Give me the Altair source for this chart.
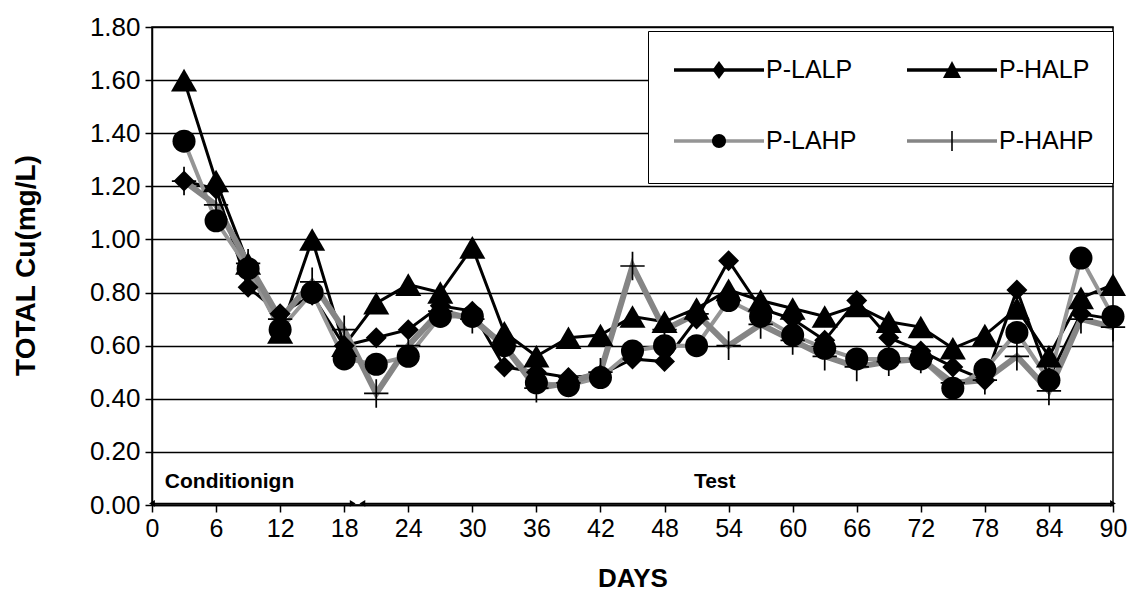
import altair as alt
import pandas as pd

# ---------------- data ----------------
days = list(range(3, 91, 3))
series_names = ["P-LALP", "P-HALP", "P-LAHP", "P-HAHP"]
p_lalp = [1.22, 1.19, 0.82, 0.72, 0.79, 0.60, 0.63, 0.66, 0.75, 0.73,
          0.52, 0.50, 0.48, 0.49, 0.55, 0.54, 0.70, 0.92, 0.74, 0.70,
          0.62, 0.77, 0.63, 0.58, 0.52, 0.47, 0.81, 0.48, 0.72, 0.70]
p_halp = [1.60, 1.22, 0.91, 0.65, 1.00, 0.60, 0.76, 0.83, 0.80, 0.97,
          0.65, 0.56, 0.63, 0.64, 0.71, 0.69, 0.74, 0.81, 0.77, 0.74,
          0.71, 0.75, 0.69, 0.67, 0.59, 0.64, 0.74, 0.56, 0.78, 0.83]
p_lahp = [1.37, 1.07, 0.89, 0.66, 0.80, 0.55, 0.53, 0.56, 0.71, 0.71,
          0.60, 0.46, 0.45, 0.48, 0.58, 0.60, 0.60, 0.77, 0.71, 0.64,
          0.59, 0.55, 0.55, 0.55, 0.44, 0.51, 0.65, 0.47, 0.93, 0.71]
p_hahp = [1.22, 1.13, 0.91, 0.70, 0.84, 0.66, 0.42, 0.60, 0.73, 0.70,
          0.60, 0.44, 0.46, 0.50, 0.90, 0.66, 0.72, 0.60, 0.68, 0.62,
          0.56, 0.52, 0.54, 0.55, 0.46, 0.47, 0.56, 0.43, 0.70, 0.67]

x_ticks = list(range(0, 91, 6))
y_ticks = [0.0, 0.2, 0.4, 0.6, 0.8, 1.0, 1.2, 1.4, 1.6, 1.8]

phase_labels = ["Conditionign", "Test"]
phase_start = [0.0, 19.7]
phase_end = [18.8, 90.0]
phase_label_x = [1.2, 52.7]
phase_label_y = [0.087, 0.087]
phase_arrow_y = [0.006, 0.006]

# ---------------- tables ----------------
rows = []
for name, vals in zip(series_names, [p_lalp, p_halp, p_lahp, p_hahp]):
    for d, v in zip(days, vals):
        rows.append({"day": d, "cu": v, "series": name})
df = pd.DataFrame(rows)

phases = pd.DataFrame({
    "label": phase_labels, "start": phase_start, "end": phase_end,
    "lx": phase_label_x, "ly": phase_label_y, "ay": phase_arrow_y,
})

FONT = "Liberation Sans"

x_scale = alt.Scale(domain=[0, 90], nice=False, zero=False)
y_scale = alt.Scale(domain=[0, 1.8], nice=False)

x_axis = alt.Axis(values=x_ticks, grid=False, tickSize=7, tickWidth=1.5,
                  domainWidth=1.5, labelPadding=4, labelFontSize=25,
                  labelFlush=False, title="DAYS", titleFontSize=26,
                  titleFontWeight="bold", titleY=73, titleBaseline="middle")
y_axis = alt.Axis(values=y_ticks, format=".2f", grid=True, gridColor="black",
                  gridWidth=1.5, tickSize=7, tickWidth=1.5, domainWidth=1.5,
                  labelPadding=5, labelFontSize=26, labelFlush=False,
                  title="TOTAL Cu(mg/L)", titleFontSize=28,
                  titleFontWeight="bold", titleAngle=270, titleX=-126,
                  titleY=238, titleAlign="center", titleBaseline="middle")

X = alt.X("day:Q", scale=x_scale, axis=x_axis)
Y = alt.Y("cu:Q", scale=y_scale, axis=y_axis)

line_style = {
    "P-LALP": dict(color="black", strokeWidth=3),
    "P-HALP": dict(color="black", strokeWidth=3),
    "P-LAHP": dict(color="#959595", strokeWidth=4),
    "P-HAHP": dict(color="#858585", strokeWidth=6),
}
plus_path = "M-0.85,-0.06H0.85V0.06H-0.85Z M-0.06,-1H0.06V1H-0.06Z"
point_style = {
    "P-LALP": dict(shape="diamond", size=440),
    "P-HALP": dict(shape="triangle-up", size=680),
    "P-LAHP": dict(shape="circle", size=530),
    "P-HAHP": dict(shape=plus_path, size=820),
}

base = alt.Chart(df)
line_layers = []
point_layers = []
for name in series_names:
    sub = base.transform_filter(alt.datum.series == name)
    line_layers.append(sub.mark_line(**line_style[name]).encode(x=X, y=Y))
    point_layers.append(
        sub.mark_point(filled=True, opacity=1, color="black", strokeWidth=0,
                       **point_style[name]).encode(x=X, y=Y))

pbase = alt.Chart(phases)
arrow_rules = pbase.mark_rule(color="black", strokeWidth=1.5).encode(
    x=alt.X("start:Q", scale=x_scale, axis=x_axis), x2="end:Q",
    y=alt.Y("ay:Q", scale=y_scale, axis=y_axis))
arrow_left = pbase.mark_point(shape="triangle-left", filled=True, opacity=1,
                              color="black", size=45).encode(
    x=alt.X("start:Q", scale=x_scale, axis=x_axis),
    y=alt.Y("ay:Q", scale=y_scale, axis=y_axis))
arrow_right = pbase.mark_point(shape="triangle-right", filled=True, opacity=1,
                               color="black", size=45).encode(
    x=alt.X("end:Q", scale=x_scale, axis=x_axis),
    y=alt.Y("ay:Q", scale=y_scale, axis=y_axis))
text_left = pbase.transform_filter(alt.datum.label == "Conditionign").mark_text(
    align="left", baseline="middle", font=FONT, fontSize=21,
    fontWeight="bold", color="black").encode(
    x=alt.X("lx:Q", scale=x_scale, axis=x_axis),
    y=alt.Y("ly:Q", scale=y_scale, axis=y_axis), text="label:N")
text_center = pbase.transform_filter(alt.datum.label == "Test").mark_text(
    align="center", baseline="middle", font=FONT, fontSize=21,
    fontWeight="bold", color="black").encode(
    x=alt.X("lx:Q", scale=x_scale, axis=x_axis),
    y=alt.Y("ly:Q", scale=y_scale, axis=y_axis), text="label:N")

# ---------------- legend (two stacked legends: bands + markers) ----------------
# a trailing move-to point gives each entry the same, taller bounding box
band_path = "M-0.65,-0.085H3.85V0.085H-0.65Z M-0.65,1.15"
band_colors = ["black", "black", "#959595", "#858585"]
marker_paths = [
    "M1.6,-0.45L1.93,0L1.6,0.45L1.27,0Z M-0.65,1.15",
    "M1.6,-0.45L2.05,0.4L1.15,0.4Z M-0.65,1.15",
    "M1.25,0A0.35,0.35 0 1,0 1.95,0A0.35,0.35 0 1,0 1.25,0Z M-0.65,1.15",
    "M1.56,-0.5H1.64V0.5H1.56Z M-0.65,1.15",
]
legend_kw = dict(orient="none", legendX=496, legendY=4, columns=2,
                 direction="horizontal", columnPadding=43, rowPadding=28,
                 padding=19, symbolSize=1600, labelOffset=59,
                 labelFontSize=25, labelFont=FONT, labelColor="black",
                 symbolStrokeWidth=0, symbolOpacity=1)

lbase = alt.Chart(df).transform_filter("false")
band_legend = lbase.mark_point(filled=True, opacity=1).encode(
    fill=alt.Fill("series:N", title=None,
                  scale=alt.Scale(domain=series_names, range=band_colors),
                  legend=alt.Legend(fillColor="white", strokeColor="black",
                                    symbolType=band_path, zindex=1,
                                    **legend_kw)),
)
marker_legend = lbase.mark_point(filled=True, opacity=1, color="black").encode(
    shape=alt.Shape("series:N", title=None,
                    scale=alt.Scale(domain=series_names, range=marker_paths),
                    legend=alt.Legend(labelOpacity=0, symbolFillColor="black",
                                      zindex=2, **legend_kw)),
)

chart = alt.layer(
    *line_layers, *point_layers, arrow_rules, arrow_left, arrow_right,
    text_left, text_center, band_legend, marker_legend,
).resolve_scale(shape="independent").properties(
    width=961, height=478,
    padding={"left": 152, "top": 27, "right": 22, "bottom": 99},
    autosize=alt.AutoSizeParams(type="none"),
    background="white",
).configure_view(stroke="black", strokeWidth=1.5).configure_axis(
    labelFont=FONT, titleFont=FONT, labelColor="black", titleColor="black",
    domainColor="black", tickColor="black",
)

chart.save("out.html", embed_options={"renderer": "svg", "actions": False})
